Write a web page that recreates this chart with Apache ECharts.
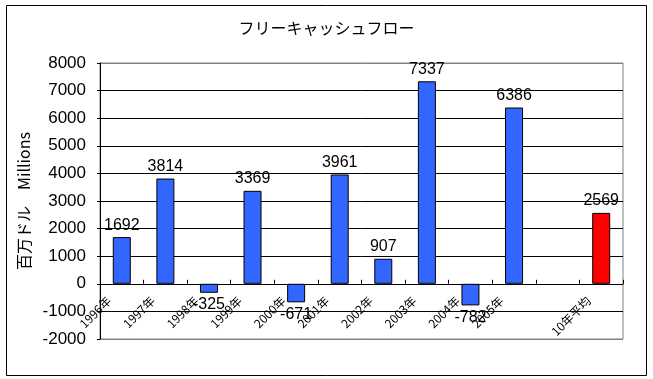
<!DOCTYPE html>
<html><head><meta charset="utf-8">
<script src="https://cdn.jsdelivr.net/npm/echarts@6/dist/echarts.min.js"></script>
<style>html,body{margin:0;padding:0;background:#fff}#c{width:653px;height:379px}</style>
</head><body><div id="c"></div>
<script>
const titleText = 'フリーキャッシュフロー';
const yAxisName = '百万ドル　Millions';
const categories = ['1996年','1997年','1998年','1999年','2000年','2001年','2002年','2003年','2004年','2005年','','10年平均'];
const values = [1692, 3814, -325, 3369, -671, 3961, 907, 7337, -782, 6386, null, 2569];
const barColors = ['#3366FF','#3366FF','#3366FF','#3366FF','#3366FF','#3366FF','#3366FF','#3366FF','#3366FF','#3366FF','#3366FF','#FF0000'];
const yMin = -2000, yMax = 8000, yInterval = 1000;

const numFont = 'Liberation Sans, Arial, sans-serif';
const cjkFont = '"Noto Sans CJK JP", sans-serif';

const gridTop = 63, gridBottom = 40, H = 379;
const plotH = H - gridTop - gridBottom;
const zeroOffset = -plotH * (0 - yMin) / (yMax - yMin);

const data = values.map((v, i) => v === null ? null : ({
  value: v,
  itemStyle: { color: barColors[i] },
  label: { position: v < 0 ? 'bottom' : 'top' }
}));

const gridLineColors = ['#808080','#000','#000','#000','#000','#000','#000','#000','#000','#000','#808080'];

const chart = echarts.init(document.getElementById('c'), null, { renderer: 'canvas' });
chart.setOption({
  animation: false,
  backgroundColor: '#fff',
  title: {
    text: titleText, left: 'center', top: 15,
    textStyle: { fontFamily: cjkFont, fontSize: 16, fontWeight: 'normal', color: '#000' }
  },
  graphic: [{
    type: 'rect', shape: { x: 6.5, y: 5.5, width: 640, height: 370 },
    style: { fill: 'none', stroke: '#000', lineWidth: 1 }, silent: true, z: -1
  }],
  grid: { left: 100, right: 30, top: gridTop, bottom: gridBottom, containLabel: false, outerBoundsMode: 'none',
          show: true, borderColor: '#808080', borderWidth: 1, backgroundColor: 'transparent' },
  xAxis: {
    type: 'category', data: categories, offset: zeroOffset,
    axisLine: { show: true, onZero: false, lineStyle: { color: '#000', width: 1 } },
    axisTick: { show: true, inside: true, length: 4, lineStyle: { color: '#000' } },
    axisLabel: { rotate: 45, margin: 2, interval: 0, fontSize: 12, color: '#000', fontFamily: cjkFont, padding: [0, 18, 0, 0] },
    splitLine: { show: false }
  },
  yAxis: {
    type: 'value', min: yMin, max: yMax, interval: yInterval,
    name: yAxisName, nameLocation: 'middle', nameGap: 57, nameRotate: 90,
    nameTextStyle: { fontFamily: cjkFont, fontSize: 16, color: '#000' },
    axisLine: { show: true, lineStyle: { color: '#000' } },
    axisTick: { show: true, length: 3, lineStyle: { color: '#000' } },
    axisLabel: { fontSize: 17, color: '#000', fontFamily: numFont, margin: 14, formatter: v => String(v) },
    splitLine: { show: true, lineStyle: { color: gridLineColors, width: 1 } }
  },
  series: [{
    type: 'bar', data: data, barWidth: 18,
    itemStyle: { borderColor: '#000', borderWidth: 1 },
    label: { show: true, fontSize: 16, color: '#000', fontFamily: numFont, distance: 4 }
  }]
});
</script></body></html>
